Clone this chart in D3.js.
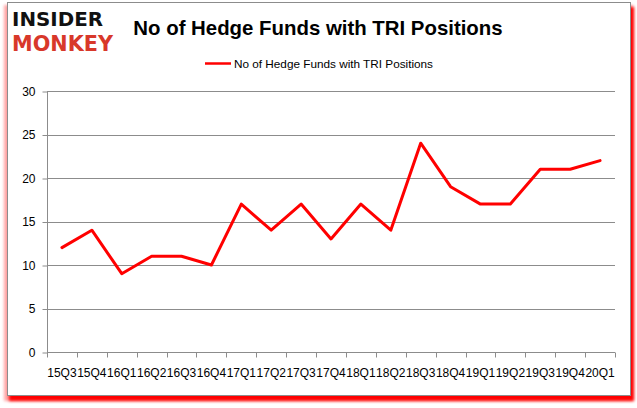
<!DOCTYPE html>
<html><head><meta charset="utf-8">
<script src="https://cdn.jsdelivr.net/npm/d3@7"></script>
<style>html,body{margin:0;padding:0;background:#fff;}svg{display:block;}</style>
</head><body>
<script>
const categories = ["15Q3","15Q4","16Q1","16Q2","16Q3","16Q4","17Q1","17Q2","17Q3","17Q4","18Q1","18Q2","18Q3","18Q4","19Q1","19Q2","19Q3","19Q4","20Q1"];
const values = [12,14,9,11,11,10,17,14,17,13,17,14,24,19,17,17,21,21,22];
const yTicks = [0,5,10,15,20,25,30];
const seriesName = "No of Hedge Funds with TRI Positions";
const title = "No of Hedge Funds with TRI Positions";

const W = 637, H = 408;
const svg = d3.select("body").append("svg").attr("width", W).attr("height", H);
const defs = svg.append("defs");
const f = defs.append("filter").attr("id","sh").attr("x","-5%").attr("y","-5%").attr("width","110%").attr("height","110%");
f.append("feGaussianBlur").attr("stdDeviation", 1.8);

// shadow
svg.append("rect").attr("x",4).attr("y",5).attr("width",629).attr("height",396)
  .attr("fill","#ff0000").attr("opacity",0.35).attr("filter","url(#sh)");
svg.append("rect").attr("x",9).attr("y",7).attr("width",625).attr("height",394)
  .attr("fill","#ff0000").attr("filter","url(#sh)");
// frame
svg.append("rect").attr("x",7.5).attr("y",2.5).attr("width",623).attr("height",393)
  .attr("fill","#fff").attr("stroke","#8c8c8c").attr("stroke-width",1);

// logo
svg.append("text").attr("x",12).attr("y",26).attr("font-family","DejaVu Sans").attr("font-weight","bold")
  .attr("font-size",19.5).attr("fill","#111").attr("textLength",91).attr("lengthAdjust","spacingAndGlyphs").text("INSIDER");
svg.append("text").attr("x",12).attr("y",50.5).attr("font-family","DejaVu Sans").attr("font-weight","bold")
  .attr("font-size",21.5).attr("fill","#d8382a").attr("textLength",101).attr("lengthAdjust","spacingAndGlyphs").text("MONKEY");

// title
svg.append("text").attr("x",318).attr("y",35).attr("text-anchor","middle")
  .attr("font-family","Liberation Sans, Arial, sans-serif").attr("font-weight","bold").attr("font-size",20.4)
  .attr("fill","#000").text(title);

// legend
const lg = svg.append("g");
lg.append("line").attr("x1",205).attr("x2",231).attr("y1",63.5).attr("y2",63.5).attr("stroke","#ff0000").attr("stroke-width",2.5);
lg.append("text").attr("x",234).attr("y",67.5).attr("font-family","Liberation Sans, Arial, sans-serif")
  .attr("font-size",11.5).attr("fill","#000").attr("textLength",199).attr("lengthAdjust","spacingAndGlyphs").text(seriesName);

// scales
const x = d3.scaleBand().domain(categories).range([47, 615]);
const y = d3.scaleLinear().domain([0, 30]).range([352, 91]);

// grid
svg.append("g").selectAll("line").data(yTicks.filter(d=>d>0)).join("line")
  .attr("x1",47).attr("x2",615).attr("y1",d=>Math.round(y(d))+0.5).attr("y2",d=>Math.round(y(d))+0.5)
  .attr("stroke","#8c8c8c").attr("stroke-width",1);

// y axis
const ya = svg.append("g").attr("transform","translate(47.5,0.5)")
  .call(d3.axisLeft(y).tickValues(yTicks).tickSize(5).tickPadding(7).tickFormat(d3.format("d")));
ya.select(".domain").attr("stroke","#8c8c8c").attr("d","M0,"+Math.round(y(30))+"V"+Math.round(y(0)));
ya.selectAll(".tick line").attr("stroke","#8c8c8c");
ya.selectAll(".tick text").attr("font-family","Liberation Sans, Arial, sans-serif").attr("font-size",12).attr("fill","#000");

// x axis
const xa = svg.append("g").attr("transform","translate(0,"+(Math.round(y(0))+0.5)+")")
  .call(d3.axisBottom(x).tickSize(0).tickPadding(16));
xa.select(".domain").attr("stroke","#8c8c8c").attr("d","M47,0H615");
xa.selectAll(".tick text").attr("font-family","Liberation Sans, Arial, sans-serif").attr("font-size",12).attr("fill","#000");
const xt = categories.map((c,i)=>x(c)).concat([615]);
xa.append("g").selectAll("line").data(xt).join("line")
  .attr("x1",d=>Math.round(d)+0.5).attr("x2",d=>Math.round(d)+0.5).attr("y1",0).attr("y2",5).attr("stroke","#8c8c8c");

// line
const line = d3.line().x((d,i)=>x(categories[i])+x.bandwidth()/2).y(d=>y(d));
svg.append("path").datum(values).attr("d",line).attr("fill","none")
  .attr("stroke","#ff0000").attr("stroke-width",3).attr("stroke-linejoin","round").attr("stroke-linecap","round");
</script>
</body></html>
